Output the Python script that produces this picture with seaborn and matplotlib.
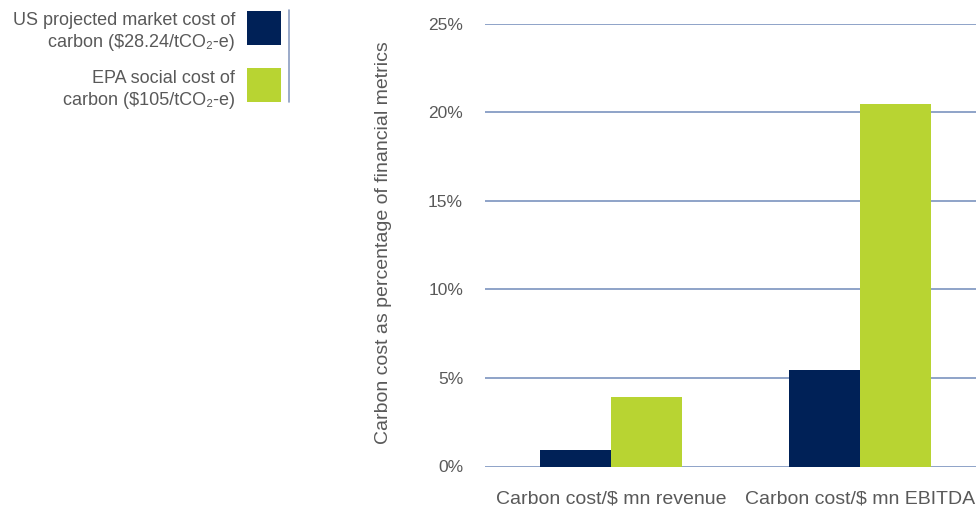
import matplotlib
matplotlib.use("Agg")
import matplotlib.pyplot as plt
from matplotlib.lines import Line2D
from matplotlib.patches import Rectangle
from matplotlib.legend_handler import HandlerPatch
import pandas as pd
import seaborn as sns

# Chart data
categories = ["Carbon cost/$ mn revenue", "Carbon cost/$ mn EBITDA"]
series_names = ["US projected market cost of\ncarbon ($28.24/tCO\u2082-e)",
                "EPA social cost of\ncarbon ($105/tCO\u2082-e)"]
market_cost = [0.93, 5.45]      # % of financial metric
social_cost = [3.92, 20.46]     # % of financial metric
y_ticks = [0, 5, 10, 15, 20, 25]
y_tick_labels = ["0%", "5%", "10%", "15%", "20%", "25%"]

colors = ["#002157", "#b8d432"]
grid_color = "#7c93bf"
text_color = "#595959"

df = pd.DataFrame({
    "metric": categories * 2,
    "series": [series_names[0]] * 2 + [series_names[1]] * 2,
    "value": market_cost + social_cost,
})

sns.set_theme(style="white")
plt.rcParams["font.family"] = ["Liberation Sans", "DejaVu Sans"]

fig = plt.figure(figsize=(9.76, 5.08), dpi=100)
ax = fig.add_axes([485 / 976, (508 - 466.5) / 508, 491 / 976, 443 / 508])

sns.barplot(data=df, x="metric", y="value", hue="series", order=categories,
            hue_order=series_names, palette=colors, width=0.57, gap=0,
            saturation=1, linewidth=0, ax=ax, legend=True)

ax.set_ylim(0, 25)
ax.set_xlim(-0.506, 1.466)
ax.set_yticks(y_ticks)
ax.set_yticklabels(y_tick_labels)
ax.set_axisbelow(True)
ax.yaxis.grid(True, color=grid_color, linewidth=1.2)
ax.xaxis.grid(False)
for s in ax.spines.values():
    s.set_visible(False)
ax.tick_params(axis="both", length=0, colors=text_color)
ax.tick_params(axis="y", pad=15.8, labelsize=12.5)
ax.tick_params(axis="x", pad=17, labelsize=14)
ax.set_xlabel("")
ax.set_ylabel("Carbon cost as percentage of financial metrics",
              color=text_color, fontsize=14)
ax.yaxis.set_label_coords(-0.189, 0.506)


# Square swatches, nudged up so the two-line labels sit centred beside them
def raised_square(legend, orig_handle, xdescent, ydescent, width, height,
                  fontsize):
    return Rectangle((-xdescent, -ydescent + 3.6), width, height)


# Legend at top left, labels to the left of the swatches
handles, labels = ax.get_legend_handles_labels()
ax.get_legend().remove()
leg = fig.legend(handles, labels, loc="upper right",
                 bbox_to_anchor=(281 / 976, 1 - 12 / 508),
                 frameon=False, markerfirst=False, borderpad=0,
                 borderaxespad=0,
                 handler_map={Rectangle: HandlerPatch(patch_func=raised_square)},
                 handlelength=1.883, handleheight=2.52, handletextpad=0.66,
                 labelspacing=1.03, fontsize=13)
for t in leg.get_texts():
    t.set_multialignment("right")
    t.set_linespacing(1.4)
    t.set_color(text_color)

fig.add_artist(Line2D([289 / 976, 289 / 976], [1 - 10 / 508, 1 - 102 / 508],
                      color="#8a9cc0", linewidth=1.2,
                      transform=fig.transFigure))

fig.savefig("out.png", dpi=100)
